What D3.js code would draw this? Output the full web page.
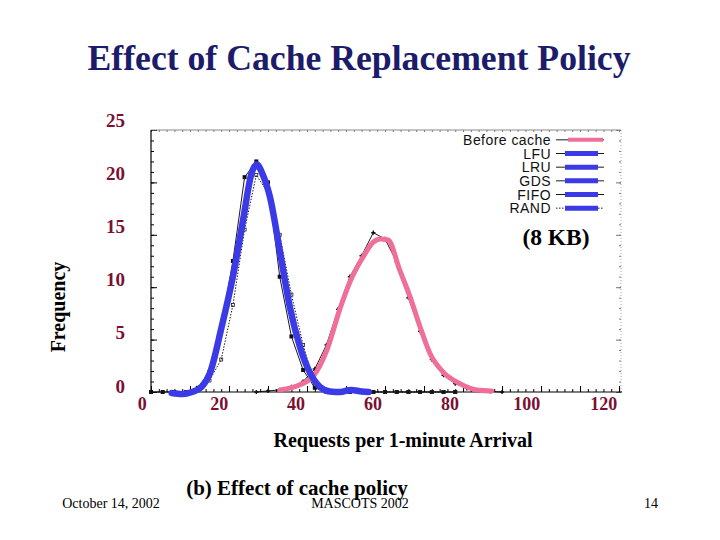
<!DOCTYPE html>
<html><head><meta charset="utf-8">
<script src="https://cdn.jsdelivr.net/npm/d3@7"></script>
<style>
html,body{margin:0;padding:0;background:#fff;}
svg{display:block;}
</style></head>
<body>
<svg id="chart" width="720" height="540"></svg>
<script>
// ---------- data ----------
const titleText = "Effect of Cache Replacement Policy";
const xTickLabels = [0, 20, 40, 60, 80, 100, 120];
const yTickLabels = [0, 5, 10, 15, 20, 25];
const legendNames = ["Before cache", "LFU", "LRU", "GDS", "FIFO", "RAND"];

// thick hand-drawn curves (x, frequency)
const beforeCurveX = [33.1, 38.2, 41.6, 45.1, 48.5, 51.0, 54.4, 57.0, 58.7, 60.8, 63.8, 66.4, 69.0, 71.5, 74.9, 79.2, 83.5, 87.4];
const beforeCurveY = [0.2, 0.7, 1.5, 4.0, 8.0, 10.5, 12.9, 14.3, 14.6, 14.5, 11.6, 9.1, 6.2, 3.7, 1.9, 0.8, 0.2, 0.1];
const cacheCurveX = [5.3, 8, 10.5, 13, 15.1, 18.1, 21.0, 23.6, 25.8, 27.1, 28.7, 30.5, 33.1, 35.6, 38.2, 40.8, 43.3, 45.9, 48.5, 51.3, 54, 55.8];
const cacheCurveY = [-0.1, -0.2, 0, 0.5, 1.8, 6.2, 11.0, 16.4, 20.9, 21.7, 20.7, 18.6, 13.3, 8.1, 4.3, 1.8, 0.5, 0.05, 0, 0.2, 0.05, 0];

// raw measured series (bins of 3 requests)
const binX = [0,3,6,9,12,15,18,21,24,27,30,33,36,39,42,45,48,51,54,57,60,63,66,69,72,75,78,81,84,87,90];
const beforeRaw = [null,null,null,null,null,null,null,null,null,0,0.1,0.2,0.5,1.0,2.2,4.5,7.9,11.0,13.0,15.2,14.6,12.4,9.0,5.8,3.1,1.6,0.8,0.35,0.15,0.05,0];
const lfuRaw    = [0,0,0,0,0.4,1.9,6.2,12.5,20.5,22.0,20.0,11.0,5.3,2.1,0.4,0,0,0,0,0,0,0,0,0,0,0,0,null,null,null,null];
const randRaw   = [null,null,null,0,0.2,1.1,3.1,8.3,15.5,20.7,19.0,15.0,9.3,4.5,0.7,0.1,0,0,0,0,0,0,0,0,0,0,0,null,null,null,null];

// ---------- layout ----------
const svg = d3.select("#chart");
const W = 720, H = 540;
const plotL = 151, plotR = 621, plotT = 130, plotB = 392;

const x = d3.scaleLinear().domain([0, 120.5]).range([plotL, plotR]);
const y = d3.scaleLinear().domain([0, 25]).range([plotB, plotT]);
// the slide's tick labels are overlaid text, slightly offset from the plot's own grid
const xLab = d3.scaleLinear().domain([0, 120]).range([141.7, 603.3]);
const yLab = d3.scaleLinear().domain([0, 25]).range([386, 120]);

const serif = "'Liberation Serif','Times New Roman',serif";
const sans = "'Liberation Sans',Arial,Helvetica,sans-serif";
const labelColor = "#7a1034";

svg.append("rect").attr("width", W).attr("height", H).attr("fill", "#fff");

// title
svg.append("text").attr("x", 359).attr("y", 70).attr("text-anchor", "middle")
  .attr("font-family", serif).attr("font-weight", "bold").attr("font-size", 35.7)
  .attr("fill", "#1c1c6a").text(titleText);

// ---------- frame with tick marks ----------
const frame = svg.append("g");
const xMinor = d3.range(0, 121, 2);
const xMajor = d3.range(0, 121, 10);
frame.append("g").attr("transform", `translate(0,${plotB})`)
  .call(d3.axisBottom(x).tickValues(xMinor).tickSize(-3).tickFormat(""))
  .call(g => g.select(".domain").remove())
  .call(g => g.selectAll("line").attr("stroke", "#000"));
frame.append("g").attr("transform", `translate(0,${plotB})`)
  .call(d3.axisBottom(x).tickValues(xMajor).tickSize(-6).tickFormat(""))
  .call(g => g.select(".domain").remove());
frame.append("g").attr("transform", `translate(0,${plotT})`)
  .call(d3.axisTop(x).tickValues(xMinor).tickSize(-2).tickFormat(""))
  .call(g => g.select(".domain").remove())
  .call(g => g.selectAll("line").attr("stroke", "#777"));
const yMinor = d3.range(0, 25.01, 1);
const yMajor = d3.range(0, 25.01, 5);
frame.append("g").attr("transform", `translate(${plotL},0)`)
  .call(d3.axisLeft(y).tickValues(yMinor).tickSize(-3).tickFormat(""))
  .call(g => g.select(".domain").remove());
frame.append("g").attr("transform", `translate(${plotL},0)`)
  .call(d3.axisLeft(y).tickValues(yMajor).tickSize(-6).tickFormat(""))
  .call(g => g.select(".domain").remove());
frame.append("g").attr("transform", `translate(${plotR},0)`)
  .call(d3.axisRight(y).tickValues(yMinor).tickSize(-2).tickFormat(""))
  .call(g => g.select(".domain").remove())
  .call(g => g.selectAll("line").attr("stroke", "#777"));
frame.append("g").attr("transform", `translate(${plotR},0)`)
  .call(d3.axisRight(y).tickValues(yMajor).tickSize(-5).tickFormat(""))
  .call(g => g.select(".domain").remove())
  .call(g => g.selectAll("line").attr("stroke", "#777"));
frame.append("line").attr("x1", plotL).attr("x2", plotR).attr("y1", plotT).attr("y2", plotT)
  .attr("stroke", "#888").attr("stroke-width", 1);
frame.append("line").attr("x1", plotR).attr("x2", plotR).attr("y1", plotT).attr("y2", plotB)
  .attr("stroke", "#aaa").attr("stroke-width", 1).attr("stroke-dasharray", "1,2");
frame.append("line").attr("x1", plotL).attr("x2", plotL).attr("y1", plotT).attr("y2", plotB)
  .attr("stroke", "#000").attr("stroke-width", 1.2);
frame.append("line").attr("x1", plotL).attr("x2", plotR + 1).attr("y1", plotB).attr("y2", plotB)
  .attr("stroke", "#000").attr("stroke-width", 1.2);

// ---------- raw thin series ----------
const rawLine = d3.line().defined(d => d[1] !== null).x(d => x(d[0])).y(d => y(d[1]));
function rawPts(arr){ return binX.map((v, i) => [v, arr[i]]); }

svg.append("path").datum(rawPts(beforeRaw)).attr("d", rawLine)
  .attr("fill", "none").attr("stroke", "#000").attr("stroke-width", 0.9);
svg.append("path").datum(rawPts(randRaw)).attr("d", rawLine)
  .attr("fill", "none").attr("stroke", "#000").attr("stroke-width", 0.9).attr("stroke-dasharray", "1.5,1.5");
svg.append("path").datum(rawPts(lfuRaw)).attr("d", rawLine)
  .attr("fill", "none").attr("stroke", "#000").attr("stroke-width", 0.9);

svg.append("g").selectAll("rect").data(rawPts(lfuRaw).filter(d => d[1] !== null)).join("rect")
  .attr("x", d => x(d[0]) - 2).attr("y", d => y(d[1]) - 2).attr("width", 4).attr("height", 4)
  .attr("fill", "#111");
svg.append("g").selectAll("rect").data(rawPts(randRaw).filter(d => d[1] !== null)).join("rect")
  .attr("x", d => x(d[0]) - 1.5).attr("y", d => y(d[1]) - 1.5).attr("width", 3).attr("height", 3)
  .attr("fill", "none").attr("stroke", "#222").attr("stroke-width", 0.8);
svg.append("g").selectAll("path").data(rawPts(beforeRaw).filter(d => d[1] !== null)).join("path")
  .attr("d", d3.symbol(d3.symbolCross, 10))
  .attr("transform", d => `translate(${x(d[0])},${y(d[1])})`).attr("fill", "#111");

// ---------- thick curves ----------
const thick = d3.line().x(d => x(d[0])).y(d => y(d[1])).curve(d3.curveMonotoneX);
svg.append("path").datum(beforeCurveX.map((v, i) => [v, beforeCurveY[i]])).attr("d", thick)
  .attr("fill", "none").attr("stroke", "#ef6f9a").attr("stroke-width", 5)
  .attr("stroke-linecap", "round").attr("stroke-linejoin", "round");
svg.append("path").datum(cacheCurveX.map((v, i) => [v, cacheCurveY[i]])).attr("d", thick)
  .attr("fill", "none").attr("stroke", "#3a3ae6").attr("stroke-width", 6.5)
  .attr("stroke-linecap", "round").attr("stroke-linejoin", "round");

// ---------- legend ----------
const legendY = d3.scaleBand().domain(legendNames).range([133, 215]);
const leg = svg.append("g");
legendNames.forEach((name, i) => {
  const cy = legendY(name) + legendY.bandwidth() / 2;
  leg.append("text").attr("x", 551).attr("y", cy).attr("dy", "0.36em")
    .attr("text-anchor", "end").attr("font-family", sans).attr("font-size", 14)
    .attr("letter-spacing", 0.45)
    .attr("fill", "#111").text(name);
  leg.append("line").attr("x1", 556).attr("x2", 604).attr("y1", cy).attr("y2", cy)
    .attr("stroke", "#000").attr("stroke-width", 0.9)
    .attr("stroke-dasharray", name === "RAND" ? "1.5,1.5" : null);
  leg.append("line").attr("x1", i === 0 ? 568 : 565).attr("x2", i === 0 ? 603 : 598)
    .attr("y1", cy).attr("y2", cy)
    .attr("stroke", i === 0 ? "#ef6f9a" : "#3a3ae6").attr("stroke-width", i === 0 ? 4 : 5);
});

svg.append("text").attr("x", 556).attr("y", 245).attr("text-anchor", "middle")
  .attr("font-family", serif).attr("font-weight", "bold").attr("font-size", 23.5)
  .attr("fill", "#000").text("(8 KB)");

// ---------- tick labels (slide text) ----------
svg.append("g").attr("transform", "translate(0,396)")
  .call(d3.axisBottom(xLab).tickValues(xTickLabels).tickSize(0).tickPadding(0))
  .call(g => g.select(".domain").remove())
  .call(g => g.selectAll("text").attr("font-family", serif).attr("font-weight", "bold")
    .attr("font-size", 18).attr("fill", labelColor).attr("dy", "0.8em"));
svg.append("g").attr("transform", "translate(125,0)")
  .call(d3.axisLeft(yLab).tickValues(yTickLabels).tickSize(0).tickPadding(0))
  .call(g => g.select(".domain").remove())
  .call(g => g.selectAll("text").attr("font-family", serif).attr("font-weight", "bold")
    .attr("font-size", 19).attr("fill", labelColor));

// axis titles
svg.append("text").attr("x", 403).attr("y", 447).attr("text-anchor", "middle")
  .attr("font-family", serif).attr("font-weight", "bold").attr("font-size", 20)
  .attr("fill", "#000").text("Requests per 1-minute Arrival");
svg.append("text").attr("transform", "translate(65,307) rotate(-90)").attr("text-anchor", "middle")
  .attr("font-family", serif).attr("font-weight", "bold").attr("font-size", 20)
  .attr("fill", "#000").text("Frequency");

// footer
svg.append("text").attr("x", 297).attr("y", 495).attr("text-anchor", "middle")
  .attr("font-family", serif).attr("font-weight", "bold").attr("font-size", 21)
  .attr("fill", "#000").text("(b) Effect of cache policy");
svg.append("text").attr("x", 111).attr("y", 508).attr("text-anchor", "middle")
  .attr("font-family", serif).attr("font-size", 14).attr("fill", "#000").text("October 14, 2002");
svg.append("text").attr("x", 360).attr("y", 508).attr("text-anchor", "middle")
  .attr("font-family", serif).attr("font-size", 14).attr("fill", "#000").text("MASCOTS 2002");
svg.append("text").attr("x", 651).attr("y", 508).attr("text-anchor", "middle")
  .attr("font-family", serif).attr("font-size", 14).attr("fill", "#000").text("14");
</script>
</body></html>
